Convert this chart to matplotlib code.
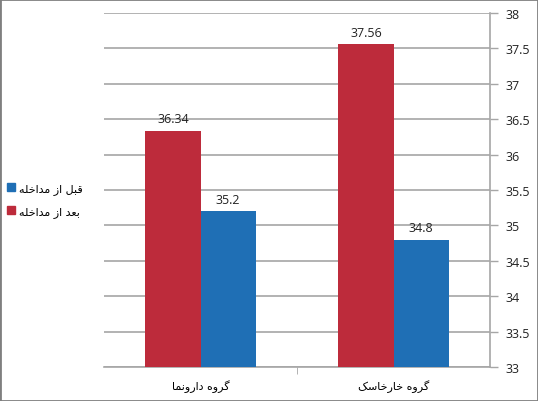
import matplotlib
matplotlib.use("Agg")
import matplotlib.pyplot as plt
from matplotlib.patches import Patch, Rectangle
import numpy as np

groups = ["گروه دارونما", "گروه خارخاسک"]
before = [35.2, 34.8]          # قبل از مداخله
after = [36.34, 37.56]         # بعد از مداخله
series_names = ["قبل از مداخله", "بعد از مداخله"]
y_ticks = [33, 33.5, 34, 34.5, 35, 35.5, 36, 36.5, 37, 37.5, 38]

RED = "#BD2B3B"
BLUE = "#1F6FB5"
GRID = "#A6A6A6"

# (isolated, final, initial, medial); right-joining letters have no initial/medial
FORMS = {
    "ا": ("\uFE8D", "\uFE8E", None, None),
    "ب": ("\uFE8F", "\uFE90", "\uFE91", "\uFE92"),
    "خ": ("\uFEA5", "\uFEA6", "\uFEA7", "\uFEA8"),
    "د": ("\uFEA9", "\uFEAA", None, None),
    "ر": ("\uFEAD", "\uFEAE", None, None),
    "ز": ("\uFEAF", "\uFEB0", None, None),
    "س": ("\uFEB1", "\uFEB2", "\uFEB3", "\uFEB4"),
    "ع": ("\uFEC9", "\uFECA", "\uFECB", "\uFECC"),
    "ق": ("\uFED5", "\uFED6", "\uFED7", "\uFED8"),
    "ک": ("\uFB8E", "\uFB8F", "\uFB90", "\uFB91"),
    "گ": ("\uFB92", "\uFB93", "\uFB94", "\uFB95"),
    "ل": ("\uFEDD", "\uFEDE", "\uFEDF", "\uFEE0"),
    "م": ("\uFEE1", "\uFEE2", "\uFEE3", "\uFEE4"),
    "ن": ("\uFEE5", "\uFEE6", "\uFEE7", "\uFEE8"),
    "ه": ("\uFEE9", "\uFEEA", "\uFEEB", "\uFEEC"),
    "و": ("\uFEED", "\uFEEE", None, None),
}


def shape(text):
    """Join Persian letters into presentation forms, return in visual order."""
    out = []
    for i, ch in enumerate(text):
        if ch not in FORMS:
            out.append(ch)
            continue
        prev = text[i - 1] if i > 0 else ""
        nxt = text[i + 1] if i + 1 < len(text) else ""
        dual = FORMS[ch][2] is not None
        join_prev = prev in FORMS and FORMS[prev][2] is not None
        join_next = dual and nxt in FORMS
        if join_prev and join_next:
            out.append(FORMS[ch][3])
        elif join_prev:
            out.append(FORMS[ch][1])
        elif join_next:
            out.append(FORMS[ch][2])
        else:
            out.append(FORMS[ch][0])
    return "".join(out)[::-1]


plt.rcParams["font.family"] = ["Open Sans", "DejaVu Sans"]

fig = plt.figure(figsize=(5.38, 4.02), dpi=100)
ax = fig.add_axes([104 / 538, 1 - 368 / 402, 386 / 538, 354 / 402])

x = np.arange(len(groups))
w = 0.285
bars_after = ax.bar(x - w / 2, after, w, color=RED, zorder=3)
bars_before = ax.bar(x + w / 2, before, w, color=BLUE, zorder=3)

for bars in (bars_after, bars_before):
    for b in bars:
        ax.annotate(f"{b.get_height():g}", (b.get_x() + b.get_width() / 2, b.get_height()),
                    xytext=(0, 4), textcoords="offset points", ha="center", va="bottom",
                    fontsize=9, color="#222222")

ax.set_ylim(33, 38)
ax.set_xlim(-0.5, 1.5)
ax.set_yticks(y_ticks)
ax.set_yticklabels([f"{t:g}" for t in y_ticks])
ax.yaxis.tick_right()
ax.yaxis.grid(True, color=GRID, linewidth=1.2, zorder=0)
ax.tick_params(axis="y", length=6, width=1, color=GRID, pad=5, labelsize=9,
               labelcolor="#222222")

ax.set_xticks([0.5], minor=True)
ax.set_xticks(x)
ax.set_xticklabels([shape(g) for g in groups], family="DejaVu Sans", fontsize=8)
ax.tick_params(axis="x", which="major", length=0, pad=9)
ax.tick_params(axis="x", which="minor", length=5, color=GRID)

for side in ("top", "left"):
    ax.spines[side].set_visible(False)
for side in ("right", "bottom"):
    ax.spines[side].set_color(GRID)
    ax.spines[side].set_linewidth(1.2)

handles = [Patch(color=BLUE, label=shape(series_names[0])),
           Patch(color=RED, label=shape(series_names[1]))]
leg = fig.legend(handles=handles, loc="center left", bbox_to_anchor=(7 / 538, 0.5),
                 frameon=False, handlelength=0.75, handleheight=0.75,
                 handletextpad=0.35, labelspacing=1.1, borderpad=0, borderaxespad=0,
                 prop={"family": "DejaVu Sans", "size": 8})

fig.patches.append(Rectangle((0, 0), 1, 1, transform=fig.transFigure, fill=False,
                             edgecolor="#7F7F7F", linewidth=2))

fig.savefig("out.png", dpi=100)
